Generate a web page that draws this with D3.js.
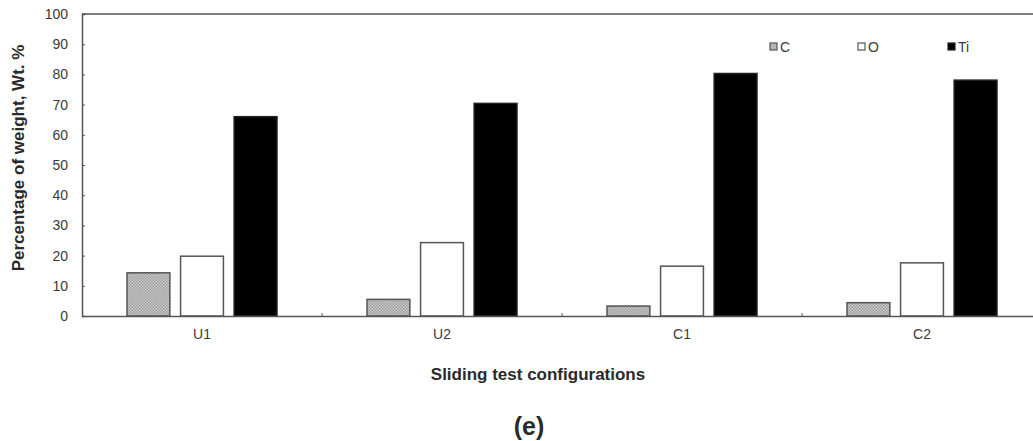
<!DOCTYPE html>
<html>
<head>
<meta charset="utf-8">
<script src="https://cdn.jsdelivr.net/npm/d3@7"></script>
<style>
  body { margin: 0; background: #fff; }
  text { font-family: Arial, "Liberation Sans", sans-serif; }
</style>
</head>
<body>
<div id="chart"></div>
<script>
let categories = ['U1', 'U2', 'C1', 'C2']
let seriesNames = ['C', 'O', 'Ti']
let cValues = [14.3, 5.5, 3.3, 4.4]
let oValues = [19.8, 24.3, 16.5, 17.6]
let tiValues = [66, 70.4, 80.3, 78.1]
let yTicks = [0, 10, 20, 30, 40, 50, 60, 70, 80, 90, 100]

let seriesValues = [cValues, oValues, tiValues]

var width = 1033
var height = 441
var margin = { top: 14, right: -9, bottom: 125, left: 82 }
var plotW = width - margin.left - margin.right
var plotH = height - margin.top - margin.bottom

var svg = d3.select('#chart').append('svg')
  .attr('width', width)
  .attr('height', height)

// checker pattern for C bars
var defs = svg.append('defs')
var pat = defs.append('pattern')
  .attr('id', 'checker')
  .attr('width', 3)
  .attr('height', 3)
  .attr('patternUnits', 'userSpaceOnUse')
pat.append('rect').attr('width', 3).attr('height', 3).attr('fill', '#c8c8c8')
pat.append('rect').attr('width', 1.5).attr('height', 1.5).attr('fill', '#a0a0a0')
pat.append('rect').attr('x', 1.5).attr('y', 1.5).attr('width', 1.5).attr('height', 1.5).attr('fill', '#a0a0a0')

var fills = ['url(#checker)', '#fff', '#000']
var strokes = ['#555', '#555', '#222']

var g = svg.append('g')
  .attr('transform', 'translate(' + margin.left + ',' + margin.top + ')')

var x = d3.scaleBand()
  .domain(categories)
  .range([0, plotW])

var sub = d3.scaleBand()
  .domain(seriesNames)
  .range([x.bandwidth() / 2 - 75, x.bandwidth() / 2 + 75])
  .paddingInner(0.2)

var y = d3.scaleLinear()
  .domain([0, 100])
  .range([plotH, 0])

// y axis
var yAxis = d3.axisLeft(y).tickValues(yTicks).tickSize(-3).tickPadding(14)
var ya = g.append('g').call(yAxis)
ya.select('.domain').attr('stroke', '#555').attr('stroke-width', 1.5)
ya.selectAll('.tick line').attr('stroke', '#555')
ya.selectAll('.tick text').attr('font-size', 14).attr('fill', '#3a3a3a')

// top line
g.append('line')
  .attr('x1', 0).attr('x2', plotW)
  .attr('y1', 0).attr('y2', 0)
  .attr('stroke', '#555').attr('stroke-width', 1.5)

// bars
seriesValues.forEach(function (vals, si) {
  g.selectAll('.bar' + si)
    .data(vals)
    .enter().append('rect')
    .attr('x', function (d, i) { return x(categories[i]) + sub(seriesNames[si]) })
    .attr('y', function (d) { return y(d) })
    .attr('width', sub.bandwidth())
    .attr('height', function (d) { return plotH - y(d) })
    .attr('fill', fills[si])
    .attr('stroke', strokes[si])
    .attr('stroke-width', 1.5)
})

// x axis
var xAxis = d3.axisBottom(x).tickSize(0).tickPadding(13)
var xa = g.append('g').attr('transform', 'translate(0,' + plotH + ')').call(xAxis)
xa.select('.domain').attr('stroke', '#555').attr('stroke-width', 1.5)
xa.selectAll('.tick text').attr('font-size', 14).attr('fill', '#3a3a3a')

// small boundary ticks between categories
g.selectAll('.sep')
  .data(categories.slice(1))
  .enter().append('line')
  .attr('x1', function (d) { return x(d) })
  .attr('x2', function (d) { return x(d) })
  .attr('y1', plotH - 3).attr('y2', plotH)
  .attr('stroke', '#555')

// legend
var legendX = [770, 858, 948]
seriesNames.forEach(function (name, i) {
  svg.append('rect')
    .attr('x', legendX[i]).attr('y', 43)
    .attr('width', 7).attr('height', 7)
    .attr('fill', fills[i])
    .attr('stroke', strokes[i])
    .attr('stroke-width', 1.2)
  svg.append('text')
    .attr('x', legendX[i] + 10).attr('y', 52)
    .attr('font-size', 14)
    .attr('fill', '#3a3a3a')
    .text(name)
})

// axis titles
svg.append('text')
  .attr('transform', 'translate(24,' + 158 + ') rotate(-90)')
  .attr('text-anchor', 'middle')
  .attr('font-size', 17)
  .attr('font-weight', 'bold')
  .attr('fill', '#2a2a2a')
  .text('Percentage of weight, Wt. %')

svg.append('text')
  .attr('x', 538).attr('y', 380)
  .attr('text-anchor', 'middle')
  .attr('font-size', 17)
  .attr('font-weight', 'bold')
  .attr('fill', '#2a2a2a')
  .text('Sliding test configurations')

svg.append('text')
  .attr('x', 529).attr('y', 435)
  .attr('text-anchor', 'middle')
  .attr('font-size', 25)
  .attr('font-weight', 'bold')
  .attr('fill', '#2a2a2a')
  .text('(e)')
</script>
</body>
</html>
